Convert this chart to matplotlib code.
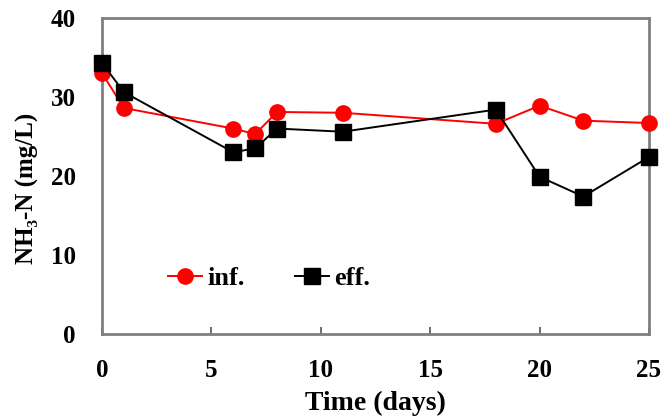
import matplotlib
matplotlib.use("Agg")
import matplotlib.pyplot as plt

days = [0, 1, 6, 7, 8, 11, 18, 20, 22, 25]
inf_vals = [33.0, 28.6, 26.0, 25.3, 28.1, 28.0, 26.6, 28.9, 27.0, 26.7]
eff_vals = [34.3, 30.6, 23.0, 23.5, 26.0, 25.6, 28.4, 19.9, 17.4, 22.4]
x_ticks = [0, 5, 10, 15, 20, 25]
y_ticks = [0, 10, 20, 30, 40]

plt.rcParams['font.family'] = ['Liberation Serif', 'DejaVu Serif']
plt.rcParams['font.weight'] = 'bold'

fig = plt.figure(figsize=(6.67, 4.17), dpi=100)
ax = fig.add_axes([0.153, 0.199, 0.82, 0.758])

ax.plot(days, inf_vals, color='#ff0000', marker='o', markersize=11, linewidth=1.4,
        label='inf.', clip_on=False, zorder=3)
ax.plot(days, eff_vals, color='black', marker='s', markersize=12, linewidth=1.4,
        label='eff.', clip_on=False, zorder=4)

ax.set_xlim(0, 25)
ax.set_ylim(0, 40)
ax.set_xticks(x_ticks)
ax.set_yticks(y_ticks)
ax.tick_params(axis='x', direction='in', length=5, width=1.2, color='#555555',
               labelsize=18, pad=18)
ax.tick_params(axis='y', length=0, labelsize=18, pad=19)
for lab in ax.get_xticklabels() + ax.get_yticklabels():
    lab.set_fontweight('bold')
for s in ax.spines.values():
    s.set_color('#808080')
    s.set_linewidth(2)

ax.set_xlabel('Time (days)', fontsize=20, fontweight='bold', labelpad=6)
ax.set_ylabel('NH₃-N (mg/L)', fontsize=18, fontweight='bold')
ax.yaxis.set_label_coords(-0.115, 0.46)

leg = ax.legend(loc='center left', bbox_to_anchor=(0.12, 0.175), ncol=2,
                frameon=False, fontsize=19, handlelength=1.3, handletextpad=0.2,
                columnspacing=1.9, borderaxespad=0, borderpad=0)
for t in leg.get_texts():
    t.set_fontweight('bold')

fig.savefig('out.png', dpi=100)
